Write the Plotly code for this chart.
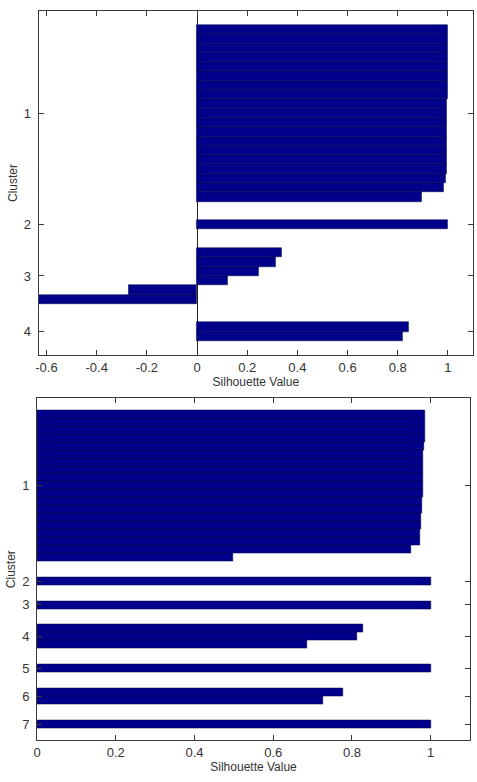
import plotly.graph_objects as go

# ---------------- data ----------------
# Top silhouette plot (4 clusters)
top_clusters = ["1", "2", "3", "4"]
top_values = [
    [0.999, 0.999, 0.999, 0.998, 0.998, 0.998, 0.998, 0.998, 0.997, 0.997, 0.997, 0.997,
     0.995, 0.995, 0.994, 0.994, 0.993, 0.985, 0.895],
    [1.0],
    [0.339, 0.313, 0.245, 0.123, -0.274, -0.631],
    [0.845, 0.819],
]
top_xticks = [-0.6, -0.4, -0.2, 0, 0.2, 0.4, 0.6, 0.8, 1]
top_xticklabels = ["-0.6", "-0.4", "-0.2", "0", "0.2", "0.4", "0.6", "0.8", "1"]

# Bottom silhouette plot (7 clusters)
bot_clusters = ["1", "2", "3", "4", "5", "6", "7"]
bot_values = [
    [0.986, 0.985, 0.985, 0.985, 0.982, 0.981, 0.981, 0.981, 0.981, 0.981, 0.981,
     0.978, 0.978, 0.976, 0.976, 0.973, 0.972, 0.950, 0.497],
    [1.0],
    [1.0],
    [0.829, 0.814, 0.685],
    [1.0],
    [0.778, 0.727],
    [1.0],
]
bot_xticks = [0, 0.2, 0.4, 0.6, 0.8, 1]
bot_xticklabels = ["0", "0.2", "0.4", "0.6", "0.8", "1"]

SPACE = 2  # empty rows between clusters (MATLAB silhouette layout)


def layout_rows(values):
    ys, xs, centers = [], [], []
    pos = SPACE
    for vals in values:
        first = pos + 1
        for v in vals:
            pos += 1
            ys.append(pos)
            xs.append(v)
        centers.append((first + pos) / 2)
        pos += SPACE
    return ys, xs, centers, pos


BAR_COLOR = "rgb(0,0,138)"
EDGE_COLOR = "rgb(0,0,70)"
FONT = "Liberation Sans, Arial, sans-serif"
AXC = "#3a3a3a"

fig = go.Figure()

t_y, t_x, t_c, t_len = layout_rows(top_values)
b_y, b_x, b_c, b_len = layout_rows(bot_values)

fig.add_trace(go.Bar(x=t_x, y=t_y, orientation="h", width=1.0,
                     marker=dict(color=BAR_COLOR, line=dict(color=EDGE_COLOR, width=0.5)),
                     xaxis="x", yaxis="y", showlegend=False))
fig.add_trace(go.Bar(x=b_x, y=b_y, orientation="h", width=1.0,
                     marker=dict(color=BAR_COLOR, line=dict(color=EDGE_COLOR, width=0.5)),
                     xaxis="x2", yaxis="y2", showlegend=False))

W, H = 477, 782
common_axis = dict(showgrid=False, showline=True, linecolor=AXC, linewidth=1,
                   mirror="ticks", ticks="inside", ticklen=5, tickcolor=AXC,
                   tickfont=dict(family=FONT, size=13, color="#333"))

fig.update_layout(
    width=W, height=H,
    margin=dict(l=0, r=0, t=0, b=0),
    paper_bgcolor="white", plot_bgcolor="white",
    bargap=0,
    xaxis=dict(common_axis, domain=[35 / W, 473 / W], anchor="y",
               range=[min(-0.1, min(min(v) for v in top_values)), 1.1],
               tickvals=top_xticks, ticktext=top_xticklabels,
               zeroline=True, zerolinecolor="#222", zerolinewidth=1.2,
               title=dict(text="Silhouette Value", font=dict(family=FONT, size=12, color="#333"),
                          standoff=2)),
    yaxis=dict(common_axis, domain=[1 - 355 / H, 1 - 11 / H], anchor="x",
               range=[t_len, 1], tickvals=t_c, ticktext=top_clusters, zeroline=False,
               ticklabelstandoff=4,
               title=dict(text="Cluster", font=dict(family=FONT, size=12, color="#333"),
                          standoff=3)),
    xaxis2=dict(common_axis, domain=[33.3 / W, 470 / W], anchor="y2",
                range=[0, 1.1], tickvals=bot_xticks, ticktext=bot_xticklabels,
                zeroline=False,
                title=dict(text="Silhouette Value", font=dict(family=FONT, size=12, color="#333"),
                           standoff=2)),
    yaxis2=dict(common_axis, domain=[1 - 740 / H, 1 - 398.3 / H], anchor="x2",
                range=[b_len, 1], tickvals=b_c, ticktext=bot_clusters, zeroline=False,
                ticklabelstandoff=4,
                title=dict(text="Cluster", font=dict(family=FONT, size=12, color="#333"),
                           standoff=3)),
)

fig.write_html("out.html")
